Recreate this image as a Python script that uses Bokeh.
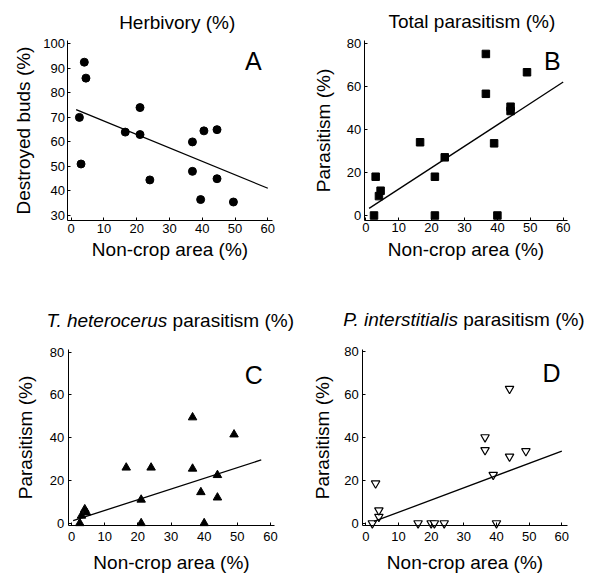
from bokeh.plotting import figure
from bokeh.layouts import gridplot
from bokeh.models import Label, Range1d, FixedTicker
from bokeh.embed import file_html
from bokeh.resources import INLINE

FONT = "Liberation Sans"

# ---------------- data ----------------
# Panel A: Herbivory
area_A = [2.5, 3, 4, 4.5, 16.5, 21, 21, 24, 37, 37, 39.5, 40.5, 44.5, 44.5, 49.5]
buds_A = [70, 51, 92.5, 86, 64, 63, 74, 44.5, 60, 48, 36.5, 64.5, 65, 45, 35.5]
fit_A_x = [1.5, 60]
fit_A_y = [73.2, 41.1]

# Panel B: Total parasitism
area_B = [2.5, 3, 4, 4.5, 16.5, 21, 21, 24, 36.5, 36.5, 39, 40, 44, 44, 49]
par_B = [0, 18, 9, 11.5, 34, 18, 0, 27, 75, 56.5, 33.5, 0, 48.5, 50.5, 66.5]
fit_B_x = [1, 60]
fit_B_y = [3.3, 62]

# Panel C: T. heterocerus parasitism
area_C = [2.5, 3, 4, 4.5, 16.5, 21, 21, 24, 36.5, 36.5, 39, 40, 44, 44, 49]
par_C = [0, 3.5, 6.5, 5, 26, 11, 0, 26, 49.5, 25.5, 14.5, 0, 22.5, 12, 41.5]
fit_C_x = [0.5, 57.2]
fit_C_y = [1.2, 29.6]

# Panel D: P. interstitialis parasitism
area_D = [2, 3, 4, 4, 16, 20, 21, 24, 36.5, 36.5, 39, 40, 44, 44, 49]
par_D = [0, 18.5, 3, 6, 0, 0, 0, 0, 40, 34, 22.5, 0, 62.5, 31, 33.5]
fit_D_x = [2.5, 60]
fit_D_y = [0.8, 33.5]

x_ticks = [0, 10, 20, 30, 40, 50, 60]
y_ticks_A = [30, 40, 50, 60, 70, 80, 90, 100]
y_ticks_par = [0, 20, 40, 60, 80]

x_label = "Non-crop area (%)"
y_label_A = "Destroyed buds (%)"
y_label_par = "Parasitism (%)"


def make_panel(width, height, view_x, view_y, xbounds, ybounds, yticks, ylabel,
               xlab_std, xaxlab_std, ylab_std, yaxlab_std):
    p = figure(width=width, height=height,
               x_range=Range1d(*view_x), y_range=Range1d(*view_y),
               output_backend="svg", toolbar_location=None,
               min_border=0, min_border_left=0, min_border_right=0,
               min_border_top=0, min_border_bottom=0)
    p.title.visible = False
    p.outline_line_color = None
    p.grid.visible = False
    p.background_fill_color = "white"
    p.border_fill_color = "white"
    p.xaxis.ticker = FixedTicker(ticks=x_ticks)
    p.yaxis.ticker = FixedTicker(ticks=yticks)
    for ax in (p.xaxis[0], p.yaxis[0]):
        ax.axis_line_color = "black"
        ax.axis_line_width = 1
        ax.major_tick_line_color = "black"
        ax.major_tick_in = 3
        ax.major_tick_out = 0
        ax.minor_tick_line_color = None
        ax.major_label_text_font = FONT
        ax.major_label_text_font_size = "13px"
        ax.major_label_text_color = "black"
        ax.axis_label_text_font = FONT
        ax.axis_label_text_font_size = "19px"
        ax.axis_label_text_font_style = "normal"
        ax.axis_label_text_color = "black"
    # axes sit inside the canvas at fixed positions, limited to their own span
    p.xaxis.fixed_location = ybounds[0]
    p.yaxis.fixed_location = xbounds[0]
    p.xaxis.bounds = xbounds
    p.yaxis.bounds = ybounds
    p.xaxis.axis_label = x_label
    p.yaxis.axis_label = ylabel
    p.xaxis.major_label_standoff = xlab_std
    p.xaxis.axis_label_standoff = xaxlab_std
    p.yaxis.major_label_standoff = ylab_std
    p.yaxis.axis_label_standoff = yaxlab_std
    return p


def add_text(p, x, y, text, size="19px", style="normal", align="left"):
    p.add_layout(Label(x=x, y=y, text=text,
                       text_font=FONT, text_font_size=size, text_font_style=style,
                       text_align=align, text_baseline="alphabetic",
                       text_color="black"))


# ---------------- Panel A ----------------
pA = make_panel(297, 288, (-21.575, 69.057), (0.24, 117.65),
                (-1.0, 61.34), (27.96, 101.35), y_ticks_A, y_label_A,
                3, 3, 3, 6)
pA.scatter(area_A, buds_A, marker="circle", size=8, color="black")
pA.line(fit_A_x, fit_A_y, line_color="black", line_width=1.3)
add_text(pA, 32.35, 108.6, "Herbivory (%)", align="center")
add_text(pA, 53, 92.9, "A", size="25px")

# ---------------- Panel B ----------------
pB = make_panel(299, 288, (-20.76, 70.12), (-33.89, 99.81),
                (-0.5, 61.3), (-2.32, 81.25), y_ticks_par, y_label_par,
                3, 3, 3, 10)
pB.scatter(area_B, par_B, marker="square", size=7.5, color="black")
pB.line(fit_B_x, fit_B_y, line_color="black", line_width=1.3)
add_text(pB, 32.22, 89.9, "Total parasitism (%)", align="center")
add_text(pB, 54.2, 71.8, "B", size="25px")

# ---------------- Panel C ----------------
pC = make_panel(297, 287, (-21.405, 68.134), (-24.47, 109.80),
                (-0.96, 61.2), (-0.94, 81.1), y_ticks_par, y_label_par,
                7, 7, 4, 11)
pC.scatter(area_C, par_C, marker="triangle", size=8.5, color="black")
pC.line(fit_C_x, fit_C_y, line_color="black", line_width=1.3)
add_text(pC, 28.88, 94.8, "T. heterocerus", style="italic", align="right")
add_text(pC, 30.48, 94.8, "parasitism (%)", align="left")
add_text(pC, 52.2, 69.4, "C", size="25px")

# ---------------- Panel D ----------------
pD = make_panel(299, 287, (-20.906, 70.615), (-24.33, 109.16),
                (-0.95, 61.7), (-0.93, 80.65), y_ticks_par, y_label_par,
                7, 7, 4, 8)
pD.scatter(area_D, par_D, marker="inverted_triangle", size=8.5,
           fill_color="white", line_color="black", line_width=1.2)
pD.line(fit_D_x, fit_D_y, line_color="black", line_width=1.3)
add_text(pD, 28.22, 94.7, "P. interstitialis", style="italic", align="right")
add_text(pD, 29.84, 94.7, "parasitism (%)", align="left")
add_text(pD, 54.1, 69.8, "D", size="25px")

grid = gridplot([[pA, pB], [pC, pD]], toolbar_location=None)

open("out.html", "w").write(file_html(grid, INLINE))
